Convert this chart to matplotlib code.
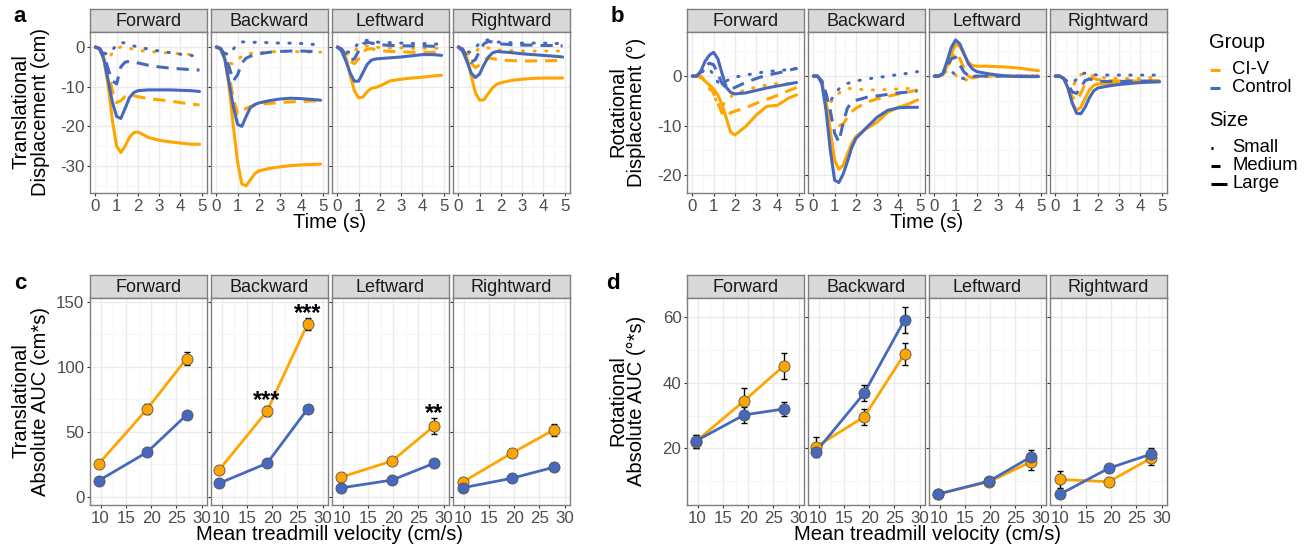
import numpy as np
import matplotlib.pyplot as plt

plt.rcParams['font.family'] = ['Liberation Sans', 'DejaVu Sans']
plt.rcParams['axes.unicode_minus'] = False

W, H = 1309, 549
ORANGE = '#FFA500'
BLUE = '#4669BE'

directions = ['Forward', 'Backward', 'Leftward', 'Rightward']
groups = ['CI-V', 'Control']
sizes = ['Small', 'Medium', 'Large']

# time grid (s) the displacement traces were read at
time_s = [0, 0.2, 0.4, 0.6, 0.8, 1.0, 1.2, 1.4, 1.6, 1.8, 2.0, 2.5, 3.0, 3.5, 4.0, 4.5, 4.9]

# panel a: translational displacement (cm)
tr_fwd_civ_small = [0, -0.3, -2, -3, -1.5, -0.3, 0, 0, -0.3, -0.6, -0.8, -1.1, -1.3, -1.5, -1.7, -1.9, -2.1]
tr_fwd_civ_medium = [0, -0.3, -2, -6, -11, -14, -13.5, -12.5, -12.2, -12.3, -12.5, -13, -13.3, -13.6, -14, -14.4, -14.6]
tr_fwd_civ_large = [0, -0.5, -3.3, -9.6, -18.4, -25, -26.6, -25, -22.8, -21.6, -21.4, -22.8, -23.5, -23.9, -24.2, -24.5, -24.5]
tr_fwd_ctl_small = [0, -0.3, -1.5, -1.8, -0.8, 0.6, 1.2, 1.0, 0.6, 0.3, 0, -0.5, -1, -1.4, -1.8, -2.1, -2.4]
tr_fwd_ctl_medium = [0, -0.3, -2, -5.5, -8.5, -9.3, -5, -3.8, -3.6, -3.7, -4, -4.6, -5, -5.3, -5.5, -5.7, -5.8]
tr_fwd_ctl_large = [0, -0.5, -2.9, -8.3, -13.8, -17.5, -18, -15.5, -12.8, -11.5, -11, -10.8, -10.8, -10.8, -10.9, -11, -11.2]

tr_bwd_civ_small = [0, -0.3, -2, -4, -4.3, -3.2, -2.3, -1.8, -1.6, -1.5, -1.4, -1.2, -1.1, -1.1, -1.2, -1.3, -1.3]
tr_bwd_civ_medium = [0, -0.3, -2, -7, -13, -16.8, -16.5, -15.5, -15, -14.7, -14.5, -14.2, -14, -13.8, -13.7, -13.6, -13.5]
tr_bwd_civ_large = [0, -0.5, -3, -10, -20, -29, -34.5, -35, -33.5, -32, -31.2, -30.6, -30.2, -29.9, -29.7, -29.6, -29.5]
tr_bwd_ctl_small = [0, -0.3, -1.5, -2, -0.5, 0.8, 1.3, 1.3, 1.2, 1.2, 1.2, 1.1, 1.0, 1.0, 0.9, 0.7, 0.5]
tr_bwd_ctl_medium = [0, -0.3, -2, -5, -8.5, -7, -4, -2.8, -2.3, -2, -1.7, -1.3, -1.1, -1, -1, -1.1, -1.2]
tr_bwd_ctl_large = [0, -0.5, -3, -9, -15, -19.5, -20, -17.5, -15.3, -14.5, -14.1, -13.5, -13.1, -12.9, -13, -13.2, -13.4]

tr_lft_civ_small = [0, -0.3, -1.5, -2, -1, 0, 0.3, 0.3, 0.2, 0, -0.1, -0.2, -0.2, -0.3, -0.3, -0.3, -0.3]
tr_lft_civ_medium = [0, -0.5, -2, -3.5, -4.2, -3, -1.2, -0.5, -0.4, -0.7, -0.9, -1.1, -1.2, -1.3, -1.3, -1.3, -1.3]
tr_lft_civ_large = [0, -0.5, -2.5, -7, -11, -12.8, -12.6, -11.3, -10.4, -10.2, -9.8, -8.5, -8.1, -7.8, -7.6, -7.3, -7.1]
tr_lft_ctl_small = [0, -0.3, -1.2, -1.3, -0.2, 1, 1.6, 1.7, 1.5, 1.3, 1.2, 1.1, 1.0, 0.9, 0.9, 0.8, 0.7]
tr_lft_ctl_medium = [0, -0.5, -2, -3.3, -3, -1, 0.8, 1.2, 1, 0.8, 0.6, 0.4, 0.3, 0.3, 0.3, 0.2, 0.2]
tr_lft_ctl_large = [0, -1, -3.5, -6.5, -8.6, -8.6, -6.5, -4.4, -3.3, -3, -2.9, -2.7, -2.5, -2.2, -1.9, -1.9, -2.1]

tr_rgt_civ_small = [0, -0.3, -1.5, -2, -1.2, -0.3, 0, -0.2, -0.5, -0.7, -0.8, -0.9, -1, -1, -1, -1, -1]
tr_rgt_civ_medium = [0, -0.5, -2, -4, -5.2, -4.5, -3.2, -2.8, -2.9, -3.1, -3.3, -3.4, -3.5, -3.5, -3.5, -3.4, -3.4]
tr_rgt_civ_large = [0, -0.5, -2.5, -7, -11.5, -13.4, -13.3, -11.8, -10.3, -9.4, -9, -8.4, -8.1, -7.9, -7.8, -7.8, -7.8]
tr_rgt_ctl_small = [0, -0.3, -1.2, -1.3, -0.2, 1, 1.7, 1.8, 1.5, 1.3, 1.2, 1.1, 1.0, 1, 1, 0.9, 0.9]
tr_rgt_ctl_medium = [0, -0.5, -2.5, -3.8, -3.2, -1, 0.8, 1.4, 1.3, 1, 0.8, 0.6, 0.5, 0.5, 0.4, 0.4, 0.3]
tr_rgt_ctl_large = [0, -1, -3.5, -6.5, -7.7, -6.8, -4.5, -2.6, -1.5, -1.1, -1.2, -1.4, -1.7, -1.9, -2.1, -2.3, -2.5]

# panel b: rotational displacement (deg)
rot_fwd_civ_small = [0, 0, -0.3, -1, -2.5, -4, -5.5, -6, -5, -4.2, -3.5, -2.8, -2.2, -1.8, -1.5, -1.5, -1.6]
rot_fwd_civ_medium = [0, 0, -0.3, -0.8, -1.8, -3.5, -5.5, -7.5, -8.2, -7.4, -7.1, -6.4, -5.5, -4.7, -3.9, -3, -2.3]
rot_fwd_civ_large = [0, 0, 0, -1, -1.8, -2.6, -3.8, -5.8, -8.5, -11.3, -11.9, -10.2, -7.9, -6.1, -5.9, -4.5, -3.8]
rot_fwd_ctl_small = [0, 0, 0.5, 1.5, 1.5, 0.2, -1.2, -1.6, -1, -0.5, -0.2, 0.2, 0.6, 0.9, 1.1, 1.3, 1.5]
rot_fwd_ctl_medium = [0, 0, 0.8, 2, 2.6, 2.3, 0.5, -1.5, -2.4, -2.6, -2.3, -1.3, -0.5, 0.2, 0.6, 1.1, 1.6]
rot_fwd_ctl_large = [0, 0, 1, 3, 4.2, 4.8, 3.5, 0.5, -2.3, -3.3, -3.6, -3.4, -2.9, -2.4, -2, -1.6, -1.3]

rot_bwd_civ_small = [0, 0, -1, -4, -5.3, -4.5, -3.5, -2.8, -2.5, -2.5, -2.6, -2.8, -2.8, -2.7, -2.6, -2.5, -2.4]
rot_bwd_civ_medium = [0, 0, -1, -4, -8.5, -9.8, -10, -9.7, -8.3, -7.2, -6.5, -5.3, -4.6, -4.1, -3.6, -3.2, -2.8]
rot_bwd_civ_large = [0, 0, -1.2, -5, -11, -17, -18.8, -18, -15.8, -13.6, -12.2, -10.6, -9.3, -7.3, -6.3, -5.6, -4.8]
rot_bwd_ctl_small = [0, 0, -1, -4, -5, -3.8, -2.6, -2, -1.5, -1.2, -1, -0.6, -0.3, 0, 0.3, 0.6, 0.9]
rot_bwd_ctl_medium = [0, 0, -1, -3.5, -7, -11.5, -13.3, -9.5, -6.5, -5.3, -4.9, -4.3, -4, -3.7, -3.4, -3.2, -3]
rot_bwd_ctl_large = [0, 0, -1.5, -7, -15, -21, -21.5, -19.8, -17.3, -14.5, -12.6, -10.4, -8.3, -6.9, -6.4, -6.3, -6.3]

rot_lft_civ_small = [0, 0, 0.5, 1, 0.8, 0.2, -0.4, -0.8, -0.7, -0.3, -0.1, 0, 0, 0, -0.1, -0.1, -0.1]
rot_lft_civ_medium = [0, 0, 0.3, 1.5, 3.5, 4.8, 3.5, 1.5, 0, -0.4, -0.2, 0, 0.1, 0, 0, 0, 0]
rot_lft_civ_large = [0, 0, 0.3, 2, 4.5, 6.4, 6, 4.3, 2.8, 2.1, 2, 2, 1.9, 1.8, 1.6, 1.3, 1.1]
rot_lft_ctl_small = [0, 0, 0.8, 1.6, 1, 0.2, -0.4, -0.5, -0.3, -0.1, 0, 0, 0, 0, 0, 0, 0]
rot_lft_ctl_medium = [0, 0, 0.5, 2, 3.5, 3.8, 2.2, 0.8, 0.1, -0.1, 0, 0, 0, 0, 0, 0, 0]
rot_lft_ctl_large = [0, 0, 0.5, 3, 5.8, 7.3, 6.5, 4.5, 2.5, 1.4, 0.9, 0.5, 0.2, 0, -0.1, -0.1, -0.1]

rot_rgt_civ_small = [0, 0, -0.5, -1.5, -2, -1, 0.3, 0.5, 0.2, 0, -0.2, -0.4, -0.5, -0.5, -0.5, -0.3, -0.2]
rot_rgt_civ_medium = [0, 0, -0.5, -2, -4.2, -5, -3.5, -1.5, -0.5, -0.5, -0.7, -0.9, -1, -1, -1, -0.9, -0.9]
rot_rgt_civ_large = [0, 0, -0.5, -2.5, -5.5, -6.9, -6.3, -4.5, -2.8, -1.9, -1.6, -1.5, -1.4, -1.3, -1.3, -1.2, -1.2]
rot_rgt_ctl_small = [0, 0, -0.4, -1.2, -1.5, -0.6, 0.4, 0.6, 0.5, 0.3, 0.2, 0.2, 0.2, 0.2, 0.2, 0.2, 0.2]
rot_rgt_ctl_medium = [0, 0, -0.5, -1.8, -3.2, -3.5, -2.2, -0.9, -0.6, -0.8, -1, -1.1, -1.1, -1, -1, -1, -1]
rot_rgt_ctl_large = [0, 0, -0.5, -2.5, -5.5, -7.5, -7.6, -6.3, -4.4, -3, -2.4, -2, -1.7, -1.5, -1.3, -1.2, -1.1]

# panels c/d: mean treadmill velocity (cm/s) per direction
vel_fwd = [9.6, 19.2, 27.0]
vel_bwd = [9.5, 19.0, 27.0]
vel_lft = [9.6, 19.8, 28.1]
vel_rgt = [9.9, 19.5, 27.8]

# panel c: translational absolute AUC (cm*s), mean and error
auc_tr_fwd_civ = [25.2, 67.4, 106.2]
auc_tr_fwd_civ_err = [1.5, 4.0, 5.0]
auc_tr_fwd_ctl = [12.3, 34.2, 62.8]
auc_tr_fwd_ctl_err = [1.0, 1.5, 2.0]
auc_tr_bwd_civ = [20.5, 65.9, 132.8]
auc_tr_bwd_civ_err = [1.5, 4.0, 4.5]
auc_tr_bwd_ctl = [10.3, 25.7, 67.4]
auc_tr_bwd_ctl_err = [1.0, 1.5, 2.0]
auc_tr_lft_civ = [14.9, 27.5, 54.4]
auc_tr_lft_civ_err = [1.0, 2.0, 6.0]
auc_tr_lft_ctl = [6.7, 12.8, 25.7]
auc_tr_lft_ctl_err = [0.8, 1.0, 1.5]
auc_tr_rgt_civ = [11.5, 33.4, 51.3]
auc_tr_rgt_civ_err = [1.0, 3.0, 4.5]
auc_tr_rgt_ctl = [6.9, 14.1, 22.6]
auc_tr_rgt_ctl_err = [0.8, 1.0, 1.5]

# panel d: rotational absolute AUC (deg*s)
auc_rot_fwd_civ = [22.0, 34.5, 45.1]
auc_rot_fwd_civ_err = [2.0, 4.0, 4.0]
auc_rot_fwd_ctl = [22.2, 30.2, 32.0]
auc_rot_fwd_ctl_err = [2.0, 2.5, 2.0]
auc_rot_bwd_civ = [20.5, 29.6, 48.8]
auc_rot_bwd_civ_err = [3.0, 2.5, 3.5]
auc_rot_bwd_ctl = [19.0, 36.8, 59.2]
auc_rot_bwd_ctl_err = [1.0, 2.5, 4.0]
auc_rot_lft_civ = [6.0, 9.8, 15.9]
auc_rot_lft_civ_err = [0.5, 0.8, 2.5]
auc_rot_lft_ctl = [6.0, 10.0, 17.4]
auc_rot_lft_ctl_err = [0.5, 0.8, 2.0]
auc_rot_rgt_civ = [10.5, 9.8, 16.9]
auc_rot_rgt_civ_err = [2.5, 0.8, 2.0]
auc_rot_rgt_ctl = [6.0, 13.9, 18.2]
auc_rot_rgt_ctl_err = [0.5, 1.0, 2.0]

# significance marks in panel c: (direction, speed index, label)
sig_marks = [('Backward', 1, '***'), ('Backward', 2, '***'), ('Leftward', 2, '**')]

trans_table = {
    'Forward': [tr_fwd_civ_small, tr_fwd_civ_medium, tr_fwd_civ_large,
                tr_fwd_ctl_small, tr_fwd_ctl_medium, tr_fwd_ctl_large],
    'Backward': [tr_bwd_civ_small, tr_bwd_civ_medium, tr_bwd_civ_large,
                 tr_bwd_ctl_small, tr_bwd_ctl_medium, tr_bwd_ctl_large],
    'Leftward': [tr_lft_civ_small, tr_lft_civ_medium, tr_lft_civ_large,
                 tr_lft_ctl_small, tr_lft_ctl_medium, tr_lft_ctl_large],
    'Rightward': [tr_rgt_civ_small, tr_rgt_civ_medium, tr_rgt_civ_large,
                  tr_rgt_ctl_small, tr_rgt_ctl_medium, tr_rgt_ctl_large],
}
rot_table = {
    'Forward': [rot_fwd_civ_small, rot_fwd_civ_medium, rot_fwd_civ_large,
                rot_fwd_ctl_small, rot_fwd_ctl_medium, rot_fwd_ctl_large],
    'Backward': [rot_bwd_civ_small, rot_bwd_civ_medium, rot_bwd_civ_large,
                 rot_bwd_ctl_small, rot_bwd_ctl_medium, rot_bwd_ctl_large],
    'Leftward': [rot_lft_civ_small, rot_lft_civ_medium, rot_lft_civ_large,
                 rot_lft_ctl_small, rot_lft_ctl_medium, rot_lft_ctl_large],
    'Rightward': [rot_rgt_civ_small, rot_rgt_civ_medium, rot_rgt_civ_large,
                  rot_rgt_ctl_small, rot_rgt_ctl_medium, rot_rgt_ctl_large],
}
vel_table = {'Forward': vel_fwd, 'Backward': vel_bwd, 'Leftward': vel_lft, 'Rightward': vel_rgt}
auc_tr_table = {
    'Forward': [(auc_tr_fwd_civ, auc_tr_fwd_civ_err), (auc_tr_fwd_ctl, auc_tr_fwd_ctl_err)],
    'Backward': [(auc_tr_bwd_civ, auc_tr_bwd_civ_err), (auc_tr_bwd_ctl, auc_tr_bwd_ctl_err)],
    'Leftward': [(auc_tr_lft_civ, auc_tr_lft_civ_err), (auc_tr_lft_ctl, auc_tr_lft_ctl_err)],
    'Rightward': [(auc_tr_rgt_civ, auc_tr_rgt_civ_err), (auc_tr_rgt_ctl, auc_tr_rgt_ctl_err)],
}
auc_rot_table = {
    'Forward': [(auc_rot_fwd_civ, auc_rot_fwd_civ_err), (auc_rot_fwd_ctl, auc_rot_fwd_ctl_err)],
    'Backward': [(auc_rot_bwd_civ, auc_rot_bwd_civ_err), (auc_rot_bwd_ctl, auc_rot_bwd_ctl_err)],
    'Leftward': [(auc_rot_lft_civ, auc_rot_lft_civ_err), (auc_rot_lft_ctl, auc_rot_lft_ctl_err)],
    'Rightward': [(auc_rot_rgt_civ, auc_rot_rgt_civ_err), (auc_rot_rgt_ctl, auc_rot_rgt_ctl_err)],
}

group_colors = [ORANGE, BLUE]
size_styles = [(0, (0.4, 3.4)), (0, (4.0, 2.6)), '-']

fig = plt.figure(figsize=(W / 100, H / 100), dpi=100)


def px_axes(x0, y0, x1, y1):
    return fig.add_axes([x0 / W, 1 - y1 / H, (x1 - x0) / W, (y1 - y0) / H])


def add_strip(x0, y0, x1, y1, label):
    s = px_axes(x0, y0, x1, y1)
    s.set_facecolor('#D9D9D9')
    s.set_xticks([])
    s.set_yticks([])
    for sp in s.spines.values():
        sp.set_color('#7F7F7F')
        sp.set_linewidth(1)
    s.text(0.5, 0.47, label, ha='center', va='center', fontsize=13, color='#1A1A1A',
           transform=s.transAxes)


def style_axis(ax, xlim, ylim, xmaj, xmin, ymaj, ymin, show_y):
    ax.set_xlim(xlim)
    ax.set_ylim(ylim)
    ax.set_xticks(xmaj)
    ax.set_xticks(xmin, minor=True)
    ax.set_yticks(ymaj)
    ax.set_yticks(ymin, minor=True)
    ax.grid(which='major', color='#EBEBEB', lw=1.0)
    ax.grid(which='minor', color='#F5F5F5', lw=0.6)
    ax.set_axisbelow(True)
    ax.tick_params(which='minor', length=0)
    ax.tick_params(which='major', length=2.5, width=0.8, color='#333333',
                   labelsize=12.2, labelcolor='#4D4D4D', pad=1.5)
    if not show_y:
        ax.tick_params(axis='y', labelleft=False)
    for sp in ax.spines.values():
        sp.set_color('#7F7F7F')
        sp.set_linewidth(1)


left_ac = [90, 211, 332, 453]
left_bd = [687, 808, 929, 1050]
PW = 117
TOP_STRIP, TOP_Y0, TOP_Y1 = 9, 32, 193
BOT_STRIP, BOT_Y0, BOT_Y1 = 275, 298, 505


def draw_traces(lefts, table, ylim, ymaj, ymin):
    for k, d in enumerate(directions):
        x0 = lefts[k]
        add_strip(x0, TOP_STRIP, x0 + PW, TOP_Y0, d)
        ax = px_axes(x0, TOP_Y0, x0 + PW, TOP_Y1)
        style_axis(ax, (-0.25, 5.25), ylim, range(0, 6), np.arange(0.5, 5, 1),
                   ymaj, ymin, k == 0)
        for i, series in enumerate(table[d]):
            g, s = divmod(i, 3)
            ax.plot(time_s, series, color=group_colors[g], lw=2.2,
                    linestyle=size_styles[s], solid_capstyle='round',
                    dash_capstyle='round' if s == 0 else 'butt')


def draw_auc(lefts, table, ylim, ymaj, ymin, marks=()):
    for k, d in enumerate(directions):
        x0 = lefts[k]
        add_strip(x0, BOT_STRIP, x0 + PW, BOT_Y0, d)
        ax = px_axes(x0, BOT_Y0, x0 + PW, BOT_Y1)
        style_axis(ax, (7.9, 31.05), ylim, [10, 15, 20, 25, 30],
                   [12.5, 17.5, 22.5, 27.5], ymaj, ymin, k == 0)
        vel = vel_table[d]
        for g, (vals, errs) in enumerate(table[d]):
            ax.plot(vel, vals, color=group_colors[g], lw=2.0, zorder=2)
        for g, (vals, errs) in enumerate(table[d]):
            ax.errorbar(vel, vals, yerr=errs, fmt='none', ecolor='black',
                        elinewidth=1.0, capsize=2, capthick=1.0, zorder=3)
        for g, (vals, errs) in enumerate(table[d]):
            ax.plot(vel, vals, 'o', ms=8, mfc=group_colors[g], mec='#555555',
                    mew=0.6, zorder=4)
        for md, idx, lab in marks:
            if md != d:
                continue
            vals, errs = table[d][0]
            ax.annotate(lab, (vel[idx], vals[idx] + errs[idx]), xytext=(0, -1),
                        textcoords='offset points', ha='center', va='baseline',
                        fontsize=17, fontweight='bold', color='black')


draw_traces(left_ac, trans_table, (-36.8, 3.8), [-30, -20, -10, 0], [-35, -25, -15, -5])
draw_traces(left_bd, rot_table, (-23.6, 8.9), [-20, -10, 0], [-15, -5, 5])
draw_auc(left_ac, auc_tr_table, (-6.4, 152.8), [0, 50, 100, 150], [25, 75, 125], sig_marks)
draw_auc(left_bd, auc_rot_table, (2.7, 65.9), [20, 40, 60], [10, 30, 50])


def ftext(x, y, s, **kw):
    fig.text(x / W, 1 - y / H, s, **kw)


# axis titles
TITLE_FS = 14.5
ftext(31, 112, 'Translational\nDisplacement (cm)', rotation=90, ha='center', va='center',
      fontsize=TITLE_FS, linespacing=1.0)
ftext(627, 112, 'Rotational\nDisplacement (°)', rotation=90, ha='center', va='center',
      fontsize=TITLE_FS, linespacing=1.0)
ftext(31, 401, 'Translational\nAbsolute AUC (cm*s)', rotation=90, ha='center', va='center',
      fontsize=TITLE_FS, linespacing=1.0)
ftext(627, 401, 'Rotational\nAbsolute AUC (°*s)', rotation=90, ha='center', va='center',
      fontsize=TITLE_FS, linespacing=1.0)
ftext(330, 223, 'Time (s)', ha='center', va='center', fontsize=TITLE_FS)
ftext(927, 223, 'Time (s)', ha='center', va='center', fontsize=TITLE_FS)
ftext(330, 535, 'Mean treadmill velocity (cm/s)', ha='center', va='center', fontsize=TITLE_FS)
ftext(927, 535, 'Mean treadmill velocity (cm/s)', ha='center', va='center', fontsize=TITLE_FS)

# panel letters
for lab, x, y in [('a', 20, 16), ('b', 617, 16), ('c', 20, 283), ('d', 613, 283)]:
    ftext(x, y, lab, ha='center', va='center', fontsize=16, fontweight='bold')

# legend
lg = fig.add_axes([0, 0, 1, 1])
lg.set_xlim(0, W)
lg.set_ylim(H, 0)
lg.axis('off')
lg.patch.set_alpha(0)
lg.text(1209, 42, 'Group', ha='left', va='center', fontsize=14.5)
for g, (lab, y) in enumerate(zip(groups, [70, 88])):
    lg.plot([1210, 1220], [y, y], color=group_colors[g], lw=2.2, solid_capstyle='butt')
    lg.text(1232, y, lab, ha='left', va='center', fontsize=13.3)
lg.text(1209, 120, 'Size', ha='left', va='center', fontsize=14.5)
key_len = [1.5, 9, 16]
for s, (lab, y) in enumerate(zip(sizes, [148, 166, 184])):
    lg.plot([1211, 1211 + key_len[s]], [y, y], color='black', lw=2.2, solid_capstyle='butt')
    lg.text(1232, y, lab, ha='left', va='center', fontsize=13.3)

fig.savefig('out.png', dpi=100)
